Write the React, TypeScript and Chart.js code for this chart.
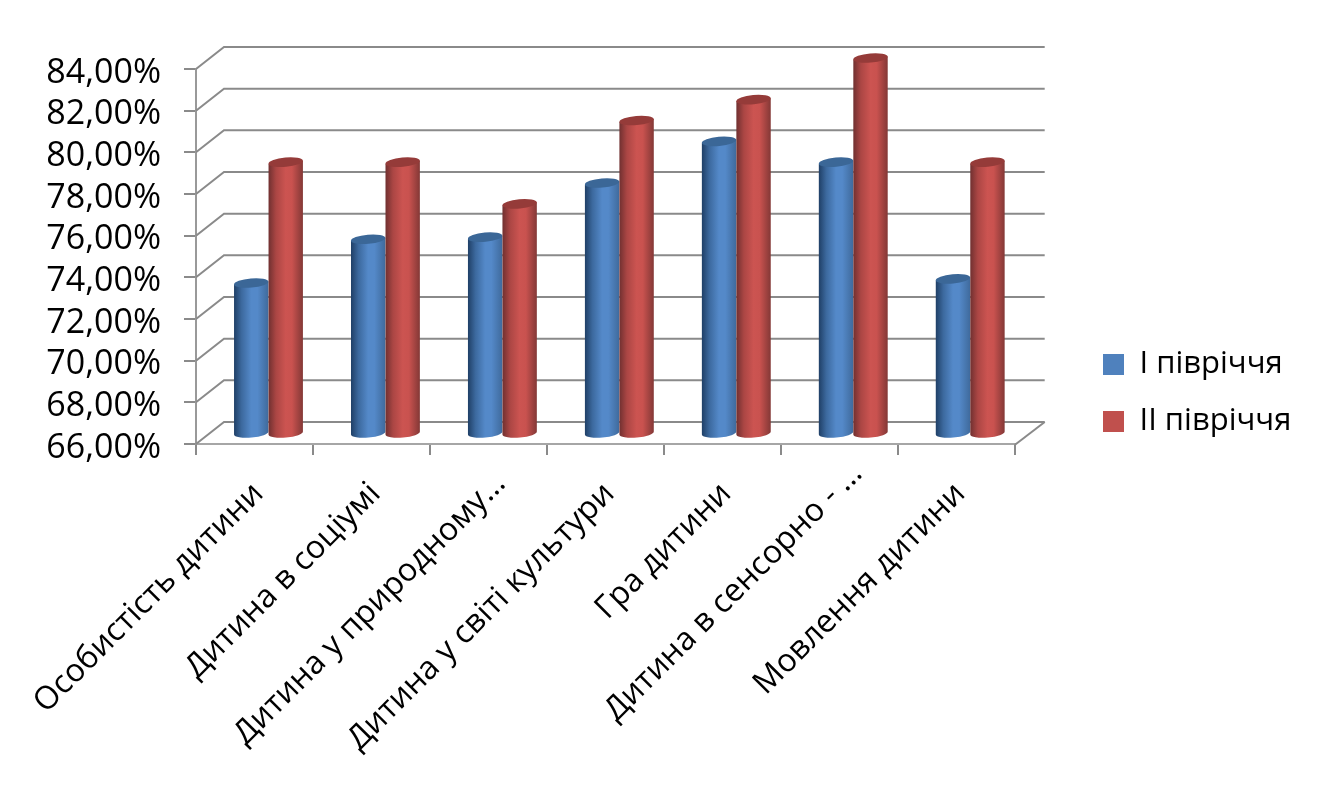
import React, { useEffect, useRef } from "react";
import { Chart, registerables } from "chart.js";

Chart.register(...registerables);

const categories = [
  "Особистість дитини",
  "Дитина в соціумі",
  "Дитина у природному…",
  "Дитина у світі культури",
  "Гра дитини",
  "Дитина в сенсорно - …",
  "Мовлення дитини",
];
const firstHalf = [73.2, 75.3, 75.4, 78, 80, 79, 73.4];
const secondHalf = [79, 79, 77, 81, 82, 84, 79];
const seriesNames = ["I півріччя", "II півріччя"];

const FONT = '"Open Sans", sans-serif';
const GRID = "#8a8a8a";
const DX = 28;
const DY = 22;

const palettes = [
  { solid: "#4f81bd", stops: ["#1f3f66", "#3c699e", "#5489c9", "#5489c9", "#3f6a9c"], cap: "#3b6797" },
  { solid: "#c0504d", stops: ["#703030", "#ab4644", "#cc5451", "#c9524f", "#833836"], cap: "#953b39" },
];

const walls = {
  id: "walls",
  beforeDatasetsDraw(chart: any) {
    const { ctx, chartArea, scales } = chart;
    const y = scales.y;
    ctx.save();
    ctx.strokeStyle = GRID;
    ctx.lineWidth = 2;
    y.ticks.forEach((t: any) => {
      const py = y.getPixelForValue(t.value);
      ctx.beginPath();
      ctx.moveTo(chartArea.left, py);
      ctx.lineTo(chartArea.left + DX, py - DY);
      ctx.lineTo(chartArea.right + DX + 2, py - DY);
      ctx.stroke();
    });
    ctx.beginPath();
    ctx.moveTo(chartArea.right, chartArea.bottom + 1);
    ctx.lineTo(chartArea.right + DX + 2, chartArea.bottom - DY);
    ctx.stroke();
    ctx.restore();
  },
};

const cylinders = {
  id: "cylinders",
  beforeDatasetsDraw(chart: any) {
    const { ctx, scales } = chart;
    const tilt = (-5 * Math.PI) / 180;
    const ry = 4.6;
    const ox = DX / 2;
    const oy = -DY / 2;
    const count = chart.data.labels.length;
    const base = scales.y.getPixelForValue(scales.y.min) + oy;
    for (let i = 0; i < count; i++) {
      chart.data.datasets.forEach((_: any, d: number) => {
        const bar = chart.getDatasetMeta(d).data[i];
        const p = palettes[d];
        const cx = bar.x + ox;
        const top = bar.y + oy;
        const rx = bar.width / 2;
        const ex = rx * Math.cos(tilt);
        const ey = rx * Math.sin(tilt);
        const g = ctx.createLinearGradient(cx - rx, 0, cx + rx, 0);
        g.addColorStop(0, p.stops[0]);
        g.addColorStop(0.22, p.stops[1]);
        g.addColorStop(0.5, p.stops[2]);
        g.addColorStop(0.68, p.stops[3]);
        g.addColorStop(1, p.stops[4]);
        ctx.save();
        ctx.beginPath();
        ctx.moveTo(cx - ex, top - ey);
        ctx.lineTo(cx - ex, base - ey);
        ctx.ellipse(cx, base, rx, ry, tilt, Math.PI, 0, true);
        ctx.lineTo(cx + ex, top + ey);
        ctx.closePath();
        ctx.fillStyle = g;
        ctx.fill();
        ctx.beginPath();
        ctx.ellipse(cx, top, rx, ry, tilt, 0, Math.PI * 2);
        ctx.fillStyle = p.cap;
        ctx.fill();
        ctx.restore();
      });
    }
    return false;
  },
};

const placeLegend = {
  id: "placeLegend",
  afterLayout(chart: any) {
    const l = chart.legend;
    const pad = l.options.labels.padding;
    const h = l.bottom - l.top;
    l.left = 1103 - pad;
    l.right = 1318;
    const centre = 393;
    l.top = centre - h / 2;
    l.bottom = centre + h / 2;
    // the two shortened labels sit further along their slant than the others
    const items = chart.scales.x.getLabelItems(chart.chartArea);
    const t3 = items[2].options.translation;
    t3[0] += 8;
    t3[1] -= 10;
    const t6 = items[5].options.translation;
    t6[0] += 14;
    t6[1] -= 20;
  },
};

export default function App() {
  const ref = useRef<HTMLCanvasElement>(null);
  useEffect(() => {
    document.body.style.margin = "0";
    const chart = new Chart(ref.current as HTMLCanvasElement, {
      type: "bar",
      data: {
        labels: categories,
        datasets: [
          { label: seriesNames[0], data: firstHalf, backgroundColor: palettes[0].solid },
          { label: seriesNames[1], data: secondHalf, backgroundColor: palettes[1].solid },
        ],
      },
      plugins: [walls, cylinders, placeLegend],
      options: {
        responsive: false,
        animation: false,
        layout: { padding: { top: 69, left: 0, right: 79, bottom: 0 } },
        datasets: { bar: { categoryPercentage: 0.59, barPercentage: 1 } },
        plugins: {
          tooltip: { enabled: false },
          legend: {
            position: "right",
            labels: {
              boxWidth: 21,
              boxHeight: 21,
              padding: 26,
              color: "#000",
              font: { family: FONT, size: 31 },
            },
          },
        },
        scales: {
          x: {
            afterFit: (s: any) => { s.height = 341; },
            grid: { drawOnChartArea: false, color: GRID, lineWidth: 2, tickLength: 11 },
            border: { color: "#a6a6a6", width: 2 },
            ticks: {
              minRotation: 45,
              maxRotation: 45,
              autoSkip: false,
              padding: 20,
              labelOffset: 4,
              color: "#000",
              font: { family: FONT, size: 32 },
            },
          },
          y: {
            min: 66,
            max: 84,
            afterFit: (s: any) => { s.width = 196; },
            grid: { drawOnChartArea: false, color: GRID, lineWidth: 2, tickLength: 12 },
            border: { color: "#999", width: 2 },
            ticks: {
              stepSize: 2,
              autoSkip: false,
              padding: 23,
              labelOffset: 4,
              color: "#000",
              font: { family: FONT, size: 34 },
              callback: (v: any) => Number(v).toFixed(2).replace(".", ",") + "%",
            },
          },
        },
      },
    } as any);
    return () => chart.destroy();
  }, []);
  return (
    <div style={{ position: "absolute", left: 0, top: 0, width: 1318, height: 785, background: "#fff" }}>
      <canvas ref={ref} width={1318} height={785} style={{ display: "block" }} />
    </div>
  );
}
